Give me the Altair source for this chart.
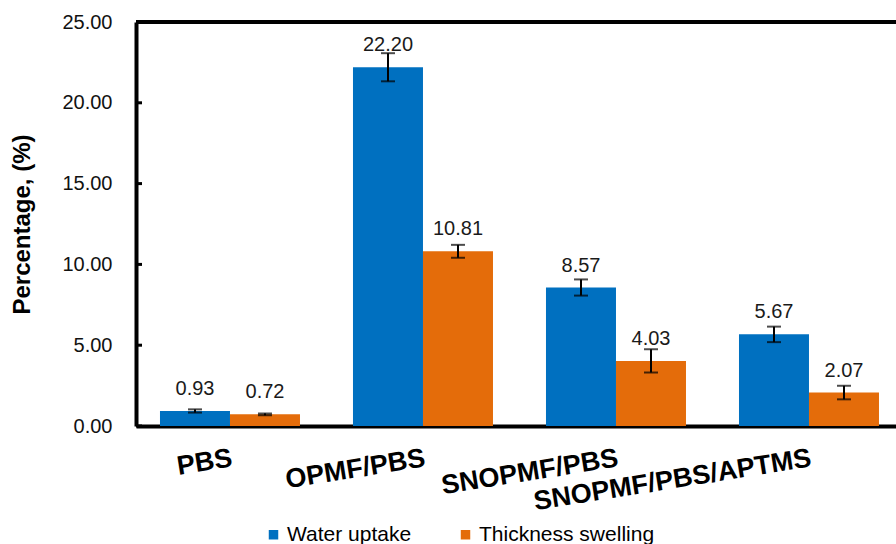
import altair as alt
import pandas as pd

# Samples and the two measured properties (mean and standard deviation, %)
categories = ["PBS", "OPMF/PBS", "SNOPMF/PBS", "SNOPMF/PBS/APTMS"]
series = ["Water uptake", "Thickness swelling"]
water_uptake = [0.93, 22.20, 8.57, 5.67]
water_uptake_err = [0.10, 0.87, 0.50, 0.48]
thickness_swelling = [0.72, 10.81, 4.03, 2.07]
thickness_swelling_err = [0.06, 0.40, 0.72, 0.42]
y_ticks = [0, 5, 10, 15, 20, 25]
colors = ["#0070C0", "#E46C0A"]

rows = []
for name, vals, errs in [
    (series[0], water_uptake, water_uptake_err),
    (series[1], thickness_swelling, thickness_swelling_err),
]:
    for cat, v, e in zip(categories, vals, errs):
        rows.append({"sample": cat, "series": name, "value": v, "lo": v - e, "hi": v + e})
df = pd.DataFrame(rows)
ticks_df = pd.DataFrame({"t": y_ticks})

FONT = "Liberation Sans"
Y_TITLE = "Percentage, (%)"
y_scale = alt.Scale(domain=[0, 25], nice=False, zero=True)
y_axis = alt.Axis(
    values=y_ticks,
    format=".2f",
    title=Y_TITLE,
    titleFont=FONT,
    titleFontSize=24,
    titleFontWeight="bold",
    titleColor="#000000",
    titlePadding=27,
    labelFont=FONT,
    labelFontSize=20,
    labelColor="#111111",
    labelPadding=24,
    ticks=False,
    tickSize=0,
    grid=False,
    domainWidth=4,
    domainColor="#000000",
)

x_enc = alt.X(
    "sample:N",
    sort=categories,
    scale=alt.Scale(paddingInner=0.2746, paddingOuter=0.1062, align=0.585),
    axis=alt.Axis(
        title=None,
        labelAngle=351,
        labelAlign="right",
        labelBaseline="top",
        labelFont=FONT,
        labelFontSize=27,
        labelFontWeight="bold",
        labelColor="#000000",
        labelPadding=19,
        labelLimit=500,
        ticks=False,
        tickSize=0,
        domainWidth=4,
        domainColor="#000000",
    ),
)
xoff = alt.XOffset("series:N", sort=series,
                   scale=alt.Scale(domain=series, paddingInner=0, paddingOuter=0))

base = alt.Chart(df)

bars = base.mark_bar().encode(
    x=x_enc,
    xOffset=xoff,
    y=alt.Y("value:Q", scale=y_scale, axis=y_axis, title=Y_TITLE),
    color=alt.Color(
        "series:N",
        sort=series,
        scale=alt.Scale(domain=series, range=colors),
        legend=alt.Legend(
            orient="none",
            legendX=127,
            legendY=502,
            direction="horizontal",
            title=None,
            symbolType="square",
            symbolSize=90,
            symbolStrokeWidth=0,
            labelFont=FONT,
            labelFontSize=21,
            labelColor="#000000",
            labelOffset=3,
            labelLimit=400,
            columnPadding=43,
        ),
    ),
)

err_line = base.mark_rule(color="#000000", strokeWidth=2).encode(
    x=alt.X("sample:N", sort=categories),
    xOffset=xoff,
    y=alt.Y("lo:Q", scale=y_scale, axis=y_axis, title=Y_TITLE),
    y2="hi:Q",
)
cap_lo = base.mark_tick(color="#000000", size=14, thickness=2, orient="horizontal").encode(
    x=alt.X("sample:N", sort=categories),
    xOffset=xoff,
    y=alt.Y("lo:Q", scale=y_scale, axis=y_axis, title=Y_TITLE),
)
cap_hi = base.mark_tick(color="#000000", size=14, thickness=2, orient="horizontal").encode(
    x=alt.X("sample:N", sort=categories),
    xOffset=xoff,
    y=alt.Y("hi:Q", scale=y_scale, axis=y_axis, title=Y_TITLE),
)

labels = base.mark_text(
    font=FONT, fontSize=20, color="#1a1a1a", baseline="alphabetic", dy=-16
).encode(
    x=alt.X("sample:N", sort=categories),
    xOffset=xoff,
    y=alt.Y("value:Q", scale=y_scale, axis=y_axis, title=Y_TITLE),
    text=alt.Text("value:Q", format=".2f"),
)

# Top frame line and inward tick marks on the value axis
top_line = alt.Chart(ticks_df).mark_rule(color="#000000", strokeWidth=4).encode(
    y=alt.YDatum(25, scale=y_scale, axis=y_axis, title=Y_TITLE)
)
left_ticks = alt.Chart(ticks_df).mark_rule(color="#000000", strokeWidth=3).encode(
    y=alt.Y("t:Q", scale=y_scale, axis=y_axis, title=Y_TITLE),
    x=alt.value(0),
    x2=alt.value(6),
)

chart = (
    alt.layer(bars, err_line, cap_lo, cap_hi, labels, top_line, left_ticks)
    .properties(
        width=760,
        height=404,
        padding={"left": 136, "top": 22, "right": 0, "bottom": 118},
        autosize=alt.AutoSizeParams(type="none"),
        background="white",
    )
    .configure_view(stroke=None)
)

chart.save("out.html", embed_options={"renderer": "svg", "actions": False})
